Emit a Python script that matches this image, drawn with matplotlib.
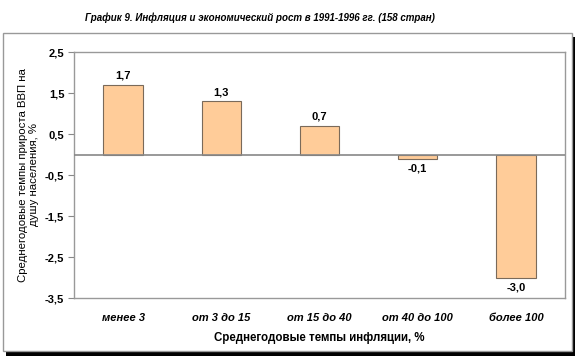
import matplotlib.pyplot as plt
from matplotlib.patches import Rectangle

plt.rcParams['font.family'] = ['Liberation Sans', 'DejaVu Sans']

categories = ['менее 3', 'от 3 до 15', 'от 15 до 40', 'от 40 до 100', 'более 100']
growth = [1.7, 1.3, 0.7, -0.1, -3.0]
yticks = [2.5, 1.5, 0.5, -0.5, -1.5, -2.5, -3.5]

fig = plt.figure(figsize=(5.75, 3.56), dpi=100)

# outer frame with shadow
W, H = 575, 356
fig.patches.append(Rectangle((6 / W, 0), 569 / W, 1 - 37 / H, transform=fig.transFigure,
                             facecolor='black', edgecolor='none', zorder=0))
fig.patches.append(Rectangle((3 / W, 5 / H), 569 / W, 1 - 38 / H, transform=fig.transFigure,
                             facecolor='white', edgecolor='#999999', lw=1, zorder=1))

ax = fig.add_axes([74 / W, 1 - 298 / H, 491 / W, 246 / H])
ax.set_zorder(2)
x = range(len(categories))
ax.bar(x, growth, width=0.4, color='#FFCC99', edgecolor='#7a6a5a', lw=0.8, zorder=3)
ax.axhline(0, color='#888888', lw=1.2, zorder=4)

for i, v in enumerate(growth):
    lbl = f'{v:.1f}'.replace('.', ',')
    if v >= 0:
        ax.text(i, v + 0.1, lbl, ha='center', va='bottom', fontsize=8, fontweight='bold')
    else:
        ax.text(i, v - 0.12, lbl, ha='center', va='top', fontsize=8, fontweight='bold')

ax.set_xlim(-0.5, len(categories) - 0.5)
ax.set_ylim(-3.5, 2.5)
ax.set_yticks(yticks)
ax.set_yticklabels([f'{t:.1f}'.replace('.', ',') for t in yticks], fontsize=8, fontweight='bold')
ax.set_xticks(list(x))
ax.set_xticklabels(categories, fontsize=8, fontweight='bold', fontstyle='italic')
ax.tick_params(axis='x', length=0, pad=11)
ax.tick_params(axis='y', length=4, color='#888888', pad=3)
for s in ax.spines.values():
    s.set_color('#999999')
    s.set_linewidth(1)

ax.set_xlabel('Среднегодовые темпы инфляции, %', fontsize=8.3, fontweight='bold', labelpad=6)
ax.set_ylabel('Среднегодовые темпы прироста ВВП на\nдушу населения, %', fontsize=8.2,
              multialignment='center', linespacing=1.15, va='center')
ax.yaxis.set_label_coords(-0.092, 0.5)

fig.text(260 / W, 1 - 18 / H, 'График 9. Инфляция и экономический рост в 1991-1996 гг. (158 стран)',
         ha='center', va='center', fontsize=7, fontweight='bold', fontstyle='italic')

fig.savefig('out.png', dpi=100)
